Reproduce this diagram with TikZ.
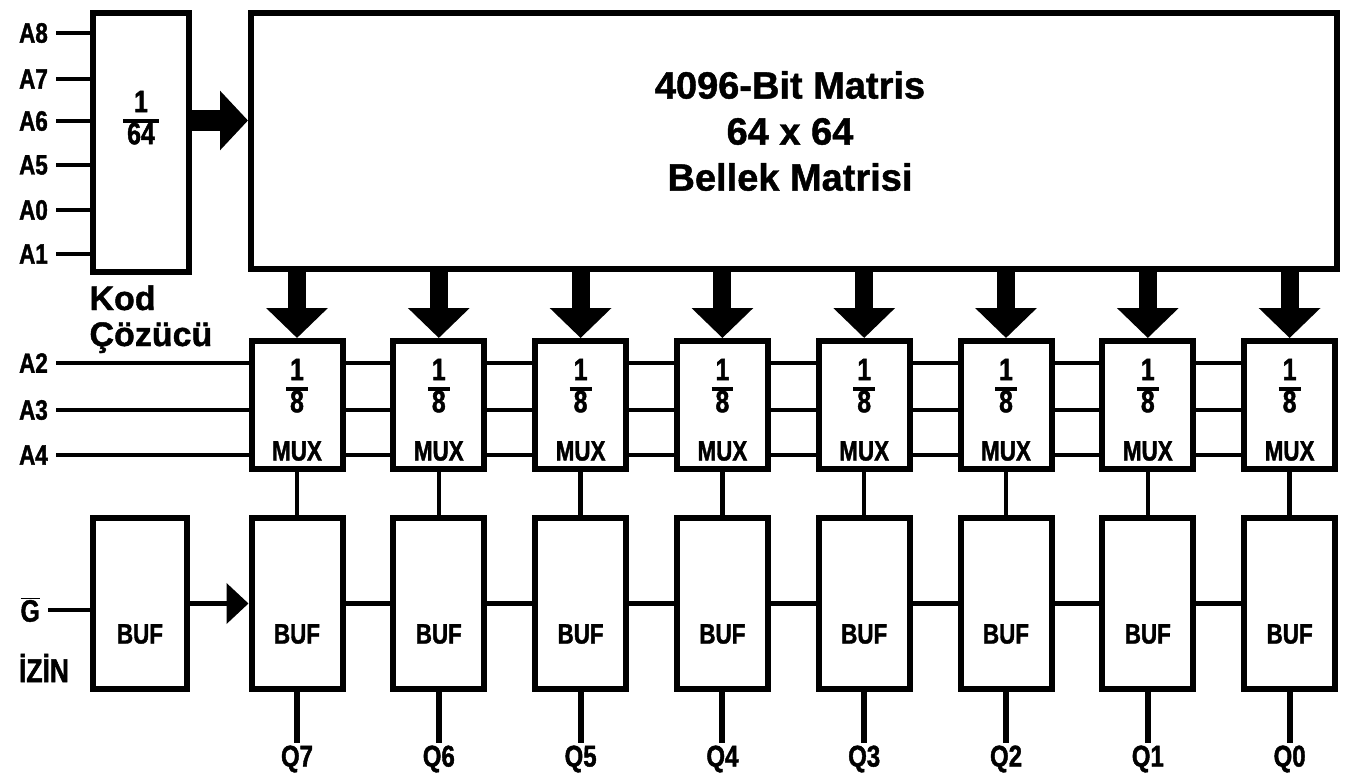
\documentclass[tikz,border=0pt]{standalone}
\usepackage{fontspec}
\setmainfont{Liberation Sans}[BoldFeatures={FakeBold=1.2}]
\newfontfamily\condfont[FakeStretch=0.8,FakeBold=1.4]{Liberation Sans}
\usetikzlibrary{arrows.meta}
\newcommand{\fracstack}[2]{{\setlength{\arrayrulewidth}{3.5pt}\renewcommand{\arraystretch}{0.72}%
  \begin{tabular}{@{\hspace{4pt}}c@{\hspace{4pt}}}#1\\\hline #2\end{tabular}}}

\tikzset{
  blk/.style={draw, line width=6pt, inner sep=0pt},
  wire/.style={line width=4.5pt},
  lbl/.style={font=\condfont\bfseries\fontsize{28}{30}\selectfont, inner sep=2pt},
  frc/.style={font=\condfont\bfseries\fontsize{31}{32}\selectfont, inner sep=2pt},
  head/.style={font=\bfseries\fontsize{38}{46}\selectfont, align=center},
  fat/.style={line width=18pt, -{Triangle[width=60pt,length=30pt]}},
}

\begin{document}
\begin{tikzpicture}[x=1pt,y=-1pt]
  \path[use as bounding box, fill=white] (0,0) rectangle (1348,781);

  \node[blk, minimum width=96pt, minimum height=259pt] (dec) at (141,142.5) {};
  \node[frc] (decfrac) at (141,121) {\fracstack{1}{64}};
  \node[blk, minimum width=1086pt, minimum height=256pt] (mat) at (794,141) {};
  \node[head] (mattxt) at (790,131) {4096-Bit Matris\\64 x 64\\Bellek Matrisi};
  \node[anchor=base west, font=\bfseries\fontsize{34}{36}\selectfont] (kod) at (86,310) {Kod};
  \node[anchor=base west, font=\bfseries\fontsize{34}{36}\selectfont] (cozucu) at (86,346) {Çözücü};

  \foreach \a/\y in {A8/33,A7/79,A6/121,A5/165,A0/210,A1/254}{
    \node[lbl, anchor=east] (in\a) at (50,\y) {\a};
    \draw[wire, shorten <=6pt] (in\a.east) -- (in\a.east -| dec.west);
  }

  \coordinate (decout) at ([yshift=22pt]dec.east);
  \draw[line width=20pt, -{Triangle[width=58pt,length=28pt]}] (decout) -- (decout -| mat.west);

  \foreach \q [count=\i from 0] in {7,6,5,4,3,2,1,0}{
    \pgfmathsetmacro{\cx}{297+141.8*\i}
    \node[blk, minimum width=91pt, minimum height=128pt] (mux\i) at (\cx,405) {};
    \node[frc] (frac\i) at (\cx,389) {\fracstack{1}{8}};
    \node[lbl] (muxl\i) at (\cx,451) {MUX};
    \node[blk, minimum width=91pt, minimum height=171pt] (buf\i) at (\cx,603.5) {};
    \node[lbl] (bufl\i) at (\cx,634) {BUF};
    \node[lbl, font=\condfont\bfseries\fontsize{30}{32}\selectfont] (q\i) at (\cx,759) {Q\q};
    \draw[fat] (mux\i.north |- mat.south) -- (mux\i.north);
    \draw[wire] (mux\i.south) -- (buf\i.north);
    \draw[wire, line width=6pt] (buf\i.south) -- (q\i.north);
  }

  \foreach \a/\y in {A2/363,A3/410,A4/455}{
    \node[lbl, anchor=east] (in\a) at (50,\y) {\a};
    \draw[wire, line width=3.5pt, shorten <=6pt] (in\a.east) -- (in\a.east -| mux0.west);
    \foreach \i [evaluate=\i as \j using int(\i+1)] in {0,...,6}
      \draw[wire] (mux\i.east |- in\a) -- (mux\j.west |- in\a);
  }

  \node[blk, minimum width=94pt, minimum height=171pt] (ebuf) at (140,603.5) {};
  \node[lbl] (ebufl) at (140,634) {BUF};
  \node[lbl, anchor=east, font=\condfont\bfseries\fontsize{31}{32}\selectfont] (gin) at (42,610) {$\overline{\hbox{G}}$};
  \node[lbl, font=\condfont\bfseries\fontsize{33}{34}\selectfont] (izin) at (44,668) {İZİN};
  \draw[wire, shorten <=6pt] (gin.east) -- (gin.east -| ebuf.west);
  \draw[wire, -{Triangle[width=40pt,length=22pt]}] (ebuf.east) -- (buf0.west);
  \foreach \i [evaluate=\i as \j using int(\i+1)] in {0,...,6}
    \draw[wire] (buf\i.east) -- (buf\j.west);
\end{tikzpicture}
\end{document}
